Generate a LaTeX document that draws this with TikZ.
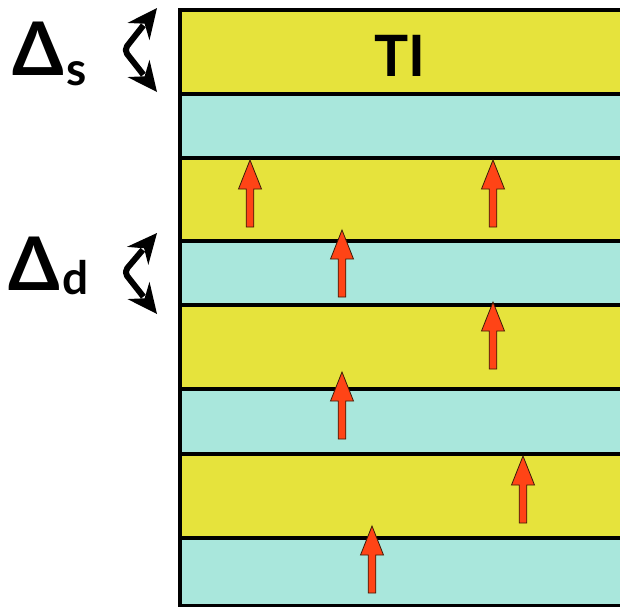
\documentclass[tikz,border=0pt]{standalone}
\usepackage{fontspec}
\setmainfont{Lato}
\usetikzlibrary{calc}
\definecolor{layerY}{HTML}{E6E33C}
\definecolor{layerC}{HTML}{A9E7DC}
\definecolor{spinred}{HTML}{FF4416}
\definecolor{spinedge}{HTML}{3A1C08}
\tikzset{
  ylayer/.style={fill=layerY, draw=none},
  clayer/.style={fill=layerC, draw=none},
  bound/.style={line width=3.5pt, black},
  spinstyle/.style={fill=spinred, draw=spinedge, line width=0.8pt, line join=miter},
  spin/.pic={\draw[spinstyle] (0,0) -- (11.5,29) -- (3.8,29) -- (3.8,67) -- (-3.8,67) -- (-3.8,29) -- (-11.5,29) -- cycle;},
  curlstroke/.style={draw=black, line width=6pt, line join=round, rounded corners=5pt},
  headfill/.style={fill=black},
  biglbl/.style={inner sep=0pt, anchor=base west, font=\fontsize{74}{74}\selectfont\bfseries},
  sublbl/.style={inner sep=0pt, anchor=base west, font=\fontsize{46}{46}\selectfont\bfseries},
}
\newcommand{\myhead}[2]{% tip, other end
  \fill[headfill] (#1) -- ($($(#1)!30pt!(#2)$)!14pt!90:(#1)$) -- ($(#1)!20pt!(#2)$) -- ($($(#1)!30pt!(#2)$)!14pt!-90:(#1)$) -- cycle;}
\begin{document}
\begin{tikzpicture}[x=1pt,y=-1pt]
\useasboundingbox (0,0) rectangle (620,608);
% layers
\fill[ylayer] (180,10) rectangle (624,94);
\fill[clayer] (180,94) rectangle (624,158);
\fill[ylayer] (180,158) rectangle (624,241);
\fill[clayer] (180,241) rectangle (624,305);
\fill[ylayer] (180,305) rectangle (624,389);
\fill[clayer] (180,389) rectangle (624,454);
\fill[ylayer] (180,454) rectangle (624,538);
\fill[clayer] (180,538) rectangle (624,606);
% boundaries
\foreach \yy in {10,94,158,241,305,389,454,538} \draw[bound] (180,\yy) -- (624,\yy);
\draw[bound] (178.25,605.5) -- (624,605.5);
\draw[bound] (180,8.25) -- (180,607);
% spins
\pic at (250,160) {spin};
\pic at (493,160) {spin};
\pic at (342,230) {spin};
\pic at (493,302) {spin};
\pic at (342,372) {spin};
\pic at (523,456) {spin};
\pic at (372,526) {spin};
% label TI
\node[inner sep=0pt, anchor=base, font=\fontsize{57}{57}\selectfont\bfseries] (ti) at (400,76) {TI};
% Delta s
\node[biglbl] (ds) at (12,75) {Δ};
\node[sublbl] (dssub) at (ds.base east) [xshift=2pt, yshift=-10pt] {s};
\coordinate (s1) at (157,8);
\coordinate (s2) at (124,50);
\coordinate (s3) at (157,92);
\draw[curlstroke] ($(s1)!22pt!(s2)$) -- (s2) -- ($(s3)!22pt!(s2)$);
\myhead{s1}{s2}
\myhead{s3}{s2}
% Delta d
\node[biglbl] (dd) at (8,290) {Δ};
\node[sublbl] (ddsub) at (dd.base east) [xshift=2pt, yshift=-4pt] {d};
\coordinate (d1) at (157,233);
\coordinate (d2) at (124,272);
\coordinate (d3) at (157,314);
\draw[curlstroke] ($(d1)!22pt!(d2)$) -- (d2) -- ($(d3)!22pt!(d2)$);
\myhead{d1}{d2}
\myhead{d3}{d2}
\end{tikzpicture}
\end{document}
